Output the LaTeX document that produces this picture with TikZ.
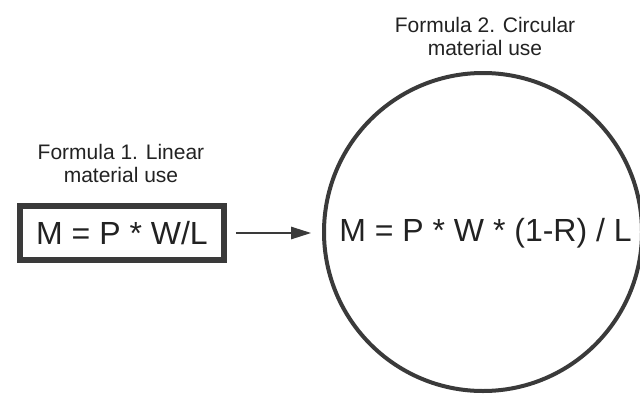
\documentclass[tikz,border=0pt]{standalone}
\usepackage{fontspec}
\setmainfont{Liberation Sans}
\usetikzlibrary{arrows.meta}
\definecolor{strk}{HTML}{3A3A3A}
\definecolor{txt}{HTML}{222222}
\begin{document}
\begin{tikzpicture}[x=1pt,y=-1pt,
  formula/.style={font=\fontsize{32}{36}\selectfont, text=txt, inner sep=0pt},
  caption/.style={font=\fontsize{21}{23}\selectfont, text=txt, align=center, inner sep=0pt},
  boxnode/.style={formula, draw=strk, line width=5.5pt, minimum width=204pt, minimum height=54pt},
  circnode/.style={formula, draw=strk, line width=4pt, circle, minimum size=318pt},
  conn/.style={draw=strk, line width=1.3pt, -{Triangle[length=20pt,width=12.5pt]}}]
\useasboundingbox (0,0) rectangle (640,394);
\begin{scope}
\clip (0,0) rectangle (640,394);
\node[boxnode] (lin) at (122,233) {M = P * W/L};
\node[circnode] (circ) at (483,232) {};
\node[formula] (circtxt) at (485.5,233) {M = P * W * (1-R) / L};
\node[caption, anchor=base] (cap1) at (121,182) {Formula 1. Linear\\material use};
\node[caption, anchor=base] (cap2) at (485,55) {Formula 2. Circular\\material use};
\draw[conn, shorten <=9pt, shorten >=11pt] (lin.east) -- (lin.east -| circ.west);
\end{scope}
\end{tikzpicture}
\end{document}
